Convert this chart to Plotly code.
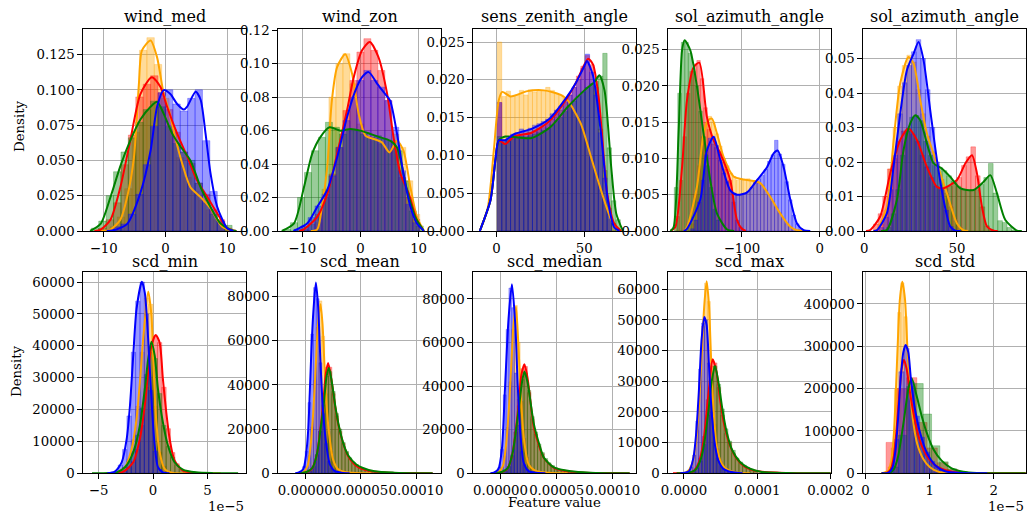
import plotly.graph_objects as go

# ------------------------------------------------------------------ data
# Each panel: KDE curve knots (x, density) and histogram bars (bin start, bin width, heights)
# Row 2 x-values are expressed in units of 1e-5.

# --- wind_med
wm_orange_kde_x = [-10.5, -8.9, -7.3, -6.2, -5.1, -4.3, -3.8, -2.4, -1.35, -0.27, 0.54, 1.6, 2.7, 4.05, 5.7, 7.3, 9.2, 11]
wm_orange_kde_y = [0, 0.001, 0.008, 0.024, 0.052, 0.104, 0.128, 0.135, 0.123, 0.097, 0.086, 0.066, 0.048, 0.031, 0.024, 0.016, 0.003, 0]
wm_red_kde_x = [-11.5, -10.5, -8.9, -7.3, -5.7, -4.05, -2.2, -0.8, 0.27, 1.9, 3.5, 5.1, 6.8, 8.4, 10, 11.5]
wm_red_kde_y = [0, 0.001, 0.008, 0.031, 0.064, 0.097, 0.109, 0.102, 0.088, 0.069, 0.053, 0.036, 0.024, 0.0125, 0.002, 0]
wm_green_kde_x = [-12.2, -10.5, -8.9, -7.3, -5.7, -4.05, -2.4, -1.35, -0.27, 1.1, 2.4, 4.05, 5.7, 7.3, 8.9, 10.5, 11.5]
wm_green_kde_y = [0, 0.005, 0.024, 0.046, 0.064, 0.079, 0.088, 0.0915, 0.083, 0.069, 0.06, 0.05, 0.031, 0.017, 0.0054, 0.001, 0]
wm_blue_kde_x = [-9.5, -8, -6.2, -4.05, -2.4, -1.35, -0.27, 0.8, 1.9, 3.0, 3.5, 4.9, 5.7, 6.5, 7.3, 8.4, 10, 11]
wm_blue_kde_y = [0, 0.001, 0.005, 0.027, 0.057, 0.088, 0.0998, 0.097, 0.09, 0.086, 0.088, 0.0986, 0.093, 0.069, 0.041, 0.017, 0.002, 0]
wm_orange_bins = (-9.0, 1.2)
wm_orange_hist = [0.003, 0.01, 0.03, 0.07, 0.128, 0.137, 0.118, 0.094, 0.072, 0.052, 0.038, 0.028, 0.022, 0.015, 0.008, 0.003]
wm_red_bins = (-10.8, 1.2)
wm_red_hist = [0.002, 0.008, 0.02, 0.047, 0.068, 0.095, 0.104, 0.11, 0.098, 0.086, 0.07, 0.056, 0.048, 0.034, 0.026, 0.015, 0.008, 0.002]
wm_green_bins = (-12.0, 1.2)
wm_green_hist = [0.002, 0.007, 0.025, 0.042, 0.056, 0.066, 0.077, 0.086, 0.092, 0.088, 0.074, 0.062, 0.056, 0.05, 0.034, 0.02, 0.012, 0.006, 0.004]
wm_blue_bins = (-9.6, 1.2)
wm_blue_hist = [0.001, 0.003, 0.005, 0.012, 0.026, 0.047, 0.074, 0.098, 0.1, 0.09, 0.085, 0.094, 0.1, 0.064, 0.028, 0.007]

# --- wind_zon
wz_orange_kde_x = [-8.5, -7.4, -6.6, -5.7, -4.9, -4.0, -2.6, -1.43, -0.29, 0.86, 2.3, 3.7, 5.0, 6.3, 7.4, 8.6, 9.7, 10.9]
wz_orange_kde_y = [0, 0.001, 0.0145, 0.038, 0.078, 0.098, 0.1057, 0.094, 0.07, 0.057, 0.055, 0.053, 0.047, 0.054, 0.048, 0.026, 0.0086, 0]
wz_red_kde_x = [-10.5, -9.7, -7.4, -5.7, -4.0, -2.3, -1.14, 0.29, 1.6, 3.1, 4.6, 5.7, 6.9, 8.3, 9.7, 10.9]
wz_red_kde_y = [0, 0.001, 0.0086, 0.022, 0.046, 0.072, 0.092, 0.108, 0.113, 0.104, 0.082, 0.056, 0.034, 0.0225, 0.0066, 0]
wz_green_kde_x = [-13.5, -11.4, -9.7, -8.3, -6.9, -5.3, -3.4, -1.7, 0, 1.7, 3.4, 5.1, 6.3, 8.0, 9.4, 10.9]
wz_green_kde_y = [0, 0.0046, 0.026, 0.046, 0.056, 0.062, 0.060, 0.061, 0.060, 0.058, 0.056, 0.054, 0.050, 0.0245, 0.0086, 0]
wz_blue_kde_x = [-11.5, -9.1, -7.4, -5.7, -4.0, -2.3, -0.86, 0.29, 1.43, 2.9, 4.0, 5.1, 6.3, 7.4, 8.6, 9.7, 10.9]
wz_blue_kde_y = [0, 0.0046, 0.0145, 0.0245, 0.044, 0.068, 0.084, 0.092, 0.095, 0.088, 0.083, 0.078, 0.058, 0.034, 0.0145, 0.0046, 0]
wz_orange_bins = (-7.8, 1.2)
wz_orange_hist = [0.005, 0.025, 0.08, 0.1, 0.106, 0.088, 0.064, 0.056, 0.054, 0.052, 0.048, 0.058, 0.05, 0.03, 0.01]
wz_red_bins = (-10.2, 1.2)
wz_red_hist = [0.001, 0.004, 0.01, 0.02, 0.034, 0.05, 0.072, 0.09, 0.107, 0.115, 0.108, 0.096, 0.078, 0.05, 0.032, 0.02, 0.007]
wz_green_bins = (-13.2, 1.2)
wz_green_hist = [0.001, 0.005, 0.02, 0.035, 0.048, 0.056, 0.065, 0.062, 0.058, 0.06, 0.06, 0.058, 0.056, 0.057, 0.055, 0.054, 0.048, 0.03, 0.012, 0.003]
wz_blue_bins = (-11.4, 1.2)
wz_blue_hist = [0.001, 0.003, 0.008, 0.015, 0.022, 0.033, 0.05, 0.066, 0.08, 0.09, 0.096, 0.09, 0.086, 0.078, 0.062, 0.036, 0.016, 0.005]

# --- sens_zenith_angle
sz_orange_kde_x = [-9.5, -5, -1.5, 1.3, 3.3, 8, 17.6, 27.1, 36.6, 40.5, 48, 53.8, 59.5, 65.3, 69, 72]
sz_orange_kde_y = [0, 0.003, 0.0107, 0.0173, 0.0184, 0.0178, 0.0185, 0.0186, 0.018, 0.0173, 0.0142, 0.0098, 0.0054, 0.0015, 0.0002, 0]
sz_red_kde_x = [-9.5, -3.4, -0.6, 1.3, 5, 10, 20, 30, 40, 45, 50, 52.3, 55, 58, 60, 63, 67, 71]
sz_red_kde_y = [0, 0.0041, 0.0094, 0.012, 0.0115, 0.0125, 0.013, 0.0145, 0.0175, 0.0195, 0.022, 0.0228, 0.022, 0.018, 0.013, 0.005, 0.001, 0]
sz_green_kde_x = [-9.5, -3.4, -0.6, 1.3, 5, 20, 30.9, 40.5, 50, 55.7, 58.6, 61.5, 65.3, 68.2, 72]
sz_green_kde_y = [0, 0.0041, 0.0094, 0.012, 0.0125, 0.0123, 0.0138, 0.0164, 0.0186, 0.0197, 0.0206, 0.0186, 0.0085, 0.0023, 0]
sz_blue_kde_x = [-9.5, -3.4, -0.6, 1.3, 5, 10, 20, 30, 40, 45, 50, 51.5, 55, 59.5, 63.4, 67, 70]
sz_blue_kde_y = [0, 0.0041, 0.0094, 0.012, 0.012, 0.0128, 0.0135, 0.0148, 0.0177, 0.0195, 0.0218, 0.0225, 0.0205, 0.0129, 0.0041, 0.0005, 0]
sz_orange_bins = (0.5, 2.5)
sz_orange_hist = [0.025, 0.0178, 0.0185, 0.0178, 0.018, 0.0186, 0.018, 0.0187, 0.0184, 0.0186, 0.0185, 0.019, 0.0186, 0.0182, 0.018, 0.0176, 0.0166, 0.0157, 0.0147, 0.0135, 0.012, 0.0095, 0.0075, 0.0055, 0.0035, 0.0015]
sz_red_bins = (0.5, 2.5)
sz_red_hist = [0.017, 0.0115, 0.012, 0.0122, 0.0125, 0.0128, 0.0125, 0.013, 0.0133, 0.0135, 0.0138, 0.0142, 0.0148, 0.0155, 0.016, 0.017, 0.018, 0.019, 0.0205, 0.0218, 0.0232, 0.022, 0.019, 0.0135, 0.008, 0.003, 0.001]
sz_green_bins = (0.5, 2.5)
sz_green_hist = [0.0125, 0.012, 0.0122, 0.0125, 0.0123, 0.0125, 0.0124, 0.0126, 0.0128, 0.013, 0.0133, 0.0136, 0.014, 0.0145, 0.015, 0.0158, 0.0166, 0.0172, 0.0178, 0.0184, 0.019, 0.0195, 0.0198, 0.0205, 0.0235, 0.011, 0.004, 0.0015]
sz_blue_bins = (0.5, 2.5)
sz_blue_hist = [0.017, 0.012, 0.0125, 0.0128, 0.013, 0.0135, 0.0132, 0.0136, 0.014, 0.0142, 0.0145, 0.0148, 0.0155, 0.016, 0.0165, 0.0172, 0.018, 0.019, 0.02, 0.0215, 0.0234, 0.021, 0.018, 0.013, 0.007, 0.0025]

# --- sol_azimuth_angle (first)
sa1_orange_kde_x = [-175, -170.7, -157.8, -149.3, -142.9, -138.6, -132, -123.6, -110.7, -97.8, -85, -76.3, -63.5, -50.6, -37.7, -29, -22]
sa1_orange_kde_y = [0, 0.0005, 0.0061, 0.0134, 0.0153, 0.0155, 0.0134, 0.0102, 0.0075, 0.0071, 0.0069, 0.0066, 0.0047, 0.0024, 0.0006, 0.0001, 0]
sa1_red_kde_x = [-192, -185.8, -177, -170.7, -162, -154.8, -145, -136.4, -127.8, -115, -106.3, -100, -95]
sa1_red_kde_y = [0, 0.0005, 0.0088, 0.018, 0.0226, 0.0232, 0.0157, 0.0125, 0.0107, 0.007, 0.0015, 0.0003, 0]
sa1_green_kde_x = [-192, -187.9, -181.5, -177, -173.7, -166.4, -157.8, -149.3, -140.7, -132, -119, -110]
sa1_green_kde_y = [0, 0.0005, 0.0134, 0.0249, 0.0263, 0.0249, 0.0199, 0.0134, 0.007, 0.0024, 0.0002, 0]
sa1_blue_kde_x = [-175, -170.7, -153.6, -145, -136.4, -127.8, -115, -106.3, -93.5, -80.6, -67.7, -59.2, -54, -46.3, -37.7, -29, -20.5, -12]
sa1_blue_kde_y = [0, 0.0003, 0.0043, 0.0111, 0.013, 0.0098, 0.0056, 0.005, 0.0053, 0.007, 0.0088, 0.0107, 0.0111, 0.0088, 0.0043, 0.001, 0.0001, 0]
sa1_orange_bins = (-166, 4.5)
sa1_orange_hist = [0.001, 0.005, 0.009, 0.013, 0.015, 0.0158, 0.015, 0.0134, 0.0117, 0.01, 0.009, 0.008, 0.0075, 0.007, 0.0072, 0.007, 0.0072, 0.0068, 0.0068, 0.0066, 0.0063, 0.0056, 0.0049, 0.0041, 0.0033, 0.0025, 0.0017, 0.001, 0.0006, 0.0002]
sa1_red_bins = (-185, 4.5)
sa1_red_hist = [0.002, 0.007, 0.013, 0.019, 0.022, 0.023, 0.0235, 0.021, 0.017, 0.014, 0.012, 0.0115, 0.011, 0.0095, 0.0085, 0.007, 0.004, 0.0015, 0.0005]
sa1_green_bins = (-187, 4.5)
sa1_green_hist = [0.006, 0.019, 0.026, 0.026, 0.0245, 0.022, 0.02, 0.0165, 0.013, 0.009, 0.006, 0.003, 0.0015]
sa1_blue_bins = (-166, 4.5)
sa1_blue_hist = [0.0003, 0.0015, 0.004, 0.007, 0.0105, 0.0128, 0.013, 0.0118, 0.0098, 0.008, 0.0068, 0.0057, 0.0052, 0.005, 0.005, 0.0052, 0.0055, 0.006, 0.0067, 0.0072, 0.0077, 0.0085, 0.0096, 0.0105, 0.0125, 0.0106, 0.0092, 0.0068, 0.0043, 0.0022, 0.001, 0.0003]

# --- sol_azimuth_angle (second)
sa2_orange_kde_x = [5, 6.8, 12.2, 15.8, 19.4, 23.9, 26.6, 30.2, 33.8, 39.2, 44.6, 50, 53.6, 56]
sa2_orange_kde_y = [0, 0.0003, 0.007, 0.026, 0.0428, 0.0505, 0.0486, 0.038, 0.0283, 0.0196, 0.0109, 0.0022, 0.0002, 0]
sa2_red_kde_x = [1, 3.2, 8.6, 14, 19.4, 23.9, 28.4, 33.8, 39.2, 42.8, 50, 54.5, 58.1, 60.8, 63.5, 66.2, 69.8, 72]
sa2_red_kde_y = [0, 0.0003, 0.0042, 0.0167, 0.0264, 0.0297, 0.0264, 0.0186, 0.0128, 0.0124, 0.0148, 0.0196, 0.022, 0.0167, 0.007, 0.0013, 0.0001, 0]
sa2_green_kde_x = [9, 12.2, 17.6, 21.2, 24.8, 27.5, 30.2, 33.8, 37.4, 41.9, 46.4, 51.8, 59, 64.4, 68, 71.6, 76.1, 82.4, 85]
sa2_green_kde_y = [0, 0.0003, 0.009, 0.0235, 0.0312, 0.0336, 0.0321, 0.0254, 0.0196, 0.0181, 0.0157, 0.0124, 0.0119, 0.0143, 0.0162, 0.0109, 0.0032, 0.0001, 0]
sa2_blue_kde_x = [5, 6.8, 12.2, 15.8, 19.4, 23, 26.6, 29.3, 32, 35.6, 39.2, 42.8, 46.4, 49.1, 52]
sa2_blue_kde_y = [0, 0.0002, 0.0051, 0.0186, 0.034, 0.0466, 0.0514, 0.0548, 0.0495, 0.035, 0.0206, 0.009, 0.0013, 0.0001, 0]
sa2_orange_bins = (8, 2.5)
sa2_orange_hist = [0.002, 0.006, 0.018, 0.03, 0.042, 0.048, 0.051, 0.049, 0.041, 0.034, 0.0275, 0.023, 0.0195, 0.015, 0.011, 0.007, 0.003, 0.001]
sa2_red_bins = (5, 2.5)
sa2_red_hist = [0.002, 0.005, 0.01, 0.018, 0.021, 0.026, 0.029, 0.0297, 0.028, 0.026, 0.022, 0.0186, 0.0155, 0.013, 0.0125, 0.0124, 0.013, 0.014, 0.0155, 0.019, 0.0215, 0.0244, 0.016, 0.007, 0.0015, 0.0003]
sa2_green_bins = (12, 2.5)
sa2_green_hist = [0.001, 0.005, 0.012, 0.022, 0.029, 0.033, 0.0335, 0.032, 0.026, 0.022, 0.019, 0.0185, 0.0175, 0.016, 0.0145, 0.013, 0.012, 0.0118, 0.012, 0.012, 0.0135, 0.0155, 0.0196, 0.011, 0.003, 0.0025, 0.001, 0.0003]
sa2_blue_bins = (8, 2.5)
sa2_blue_hist = [0.001, 0.004, 0.012, 0.022, 0.034, 0.043, 0.048, 0.052, 0.0555, 0.05, 0.041, 0.03, 0.02, 0.012, 0.006, 0.0013]

# --- scd_min (x in 1e-5)
smin_orange_kde_x = [-4.0, -3.33, -2.58, -1.97, -1.52, -1.21, -0.91, -0.45, -0.15, 0.06, 0.3, 0.6, 1.06, 1.82, 3.5, 6.2]
smin_orange_kde_y = [0, 300, 1900, 7600, 17000, 28500, 42100, 57000, 49400, 31700, 16000, 6600, 1400, 100, 20, 0]
smin_red_kde_x = [-3.5, -2.73, -1.82, -1.21, -0.76, -0.45, -0.15, 0.24, 0.6, 0.9, 1.21, 1.52, 1.97, 2.73, 3.94, 5.0]
smin_red_kde_y = [0, 500, 3450, 10800, 21200, 31700, 40000, 43400, 41000, 29600, 19100, 10800, 4000, 840, 100, 0]
smin_green_kde_x = [-5.6, -4.0, -3.33, -2.58, -1.82, -1.21, -0.76, -0.45, -0.15, 0.15, 0.45, 0.9, 1.36, 1.97, 2.73, 3.94, 5.5, 7.8]
smin_green_kde_y = [0, 100, 300, 1900, 6600, 15000, 26400, 35800, 41300, 36900, 26400, 16000, 8700, 3450, 1150, 300, 50, 0]
smin_blue_kde_x = [-4.2, -3.5, -2.88, -2.42, -2.12, -1.82, -1.52, -1.03, -0.76, -0.45, -0.15, 0.15, 0.45, 0.9, 1.5]
smin_blue_kde_y = [0, 500, 3450, 10800, 21200, 36900, 51500, 60100, 56700, 42100, 23300, 8700, 1900, 300, 0]
smin_orange_bins = (-3.2, 0.4)
smin_orange_hist = [500, 1900, 4500, 10500, 21000, 38000, 55000, 53000, 21000, 6600, 2200, 700, 150]
smin_red_bins = (-2.8, 0.4)
smin_red_hist = [700, 1800, 3500, 7500, 15000, 27000, 38000, 43000, 41000, 27000, 14000, 6500, 3000, 1200, 500, 200]
smin_green_bins = (-3.6, 0.4)
smin_green_hist = [300, 800, 1900, 3800, 6800, 12000, 20500, 31000, 40000, 36000, 25000, 15000, 8500, 5000, 2500, 1300, 700, 400]
smin_blue_bins = (-3.6, 0.4)
smin_blue_hist = [700, 2600, 7500, 18000, 38000, 54000, 60000, 50000, 26000, 7000, 1200, 200]

# --- scd_mean (x in 1e-5)
smean_orange_kde_x = [-0.8, -0.18, 0.21, 0.48, 0.72, 0.96, 1.17, 1.38, 1.56, 1.77, 1.98, 2.22, 2.51, 2.96, 3.56, 4.5, 6.0]
smean_orange_kde_y = [0, 600, 3300, 12300, 27200, 49600, 69000, 76500, 67600, 45100, 27200, 15200, 6300, 1800, 600, 100, 0]
smean_red_kde_x = [-0.5, -0.03, 0.57, 1.02, 1.32, 1.62, 1.86, 2.07, 2.37, 2.66, 2.96, 3.41, 3.86, 4.46, 5.06, 5.96, 7.5, 10.0, 11.5]
smean_red_kde_y = [0, 300, 1800, 7800, 18200, 31700, 45100, 49900, 42200, 31700, 22700, 13800, 7800, 4000, 2100, 900, 300, 100, 0]
smean_green_kde_x = [-0.5, 0.12, 0.66, 1.08, 1.38, 1.68, 1.92, 2.13, 2.37, 2.72, 3.05, 3.47, 3.92, 4.61, 5.21, 6.26, 8.0, 11.5]
smean_green_kde_y = [0, 600, 2500, 9300, 19700, 31700, 43600, 47800, 42200, 30200, 21200, 13000, 7800, 4000, 2400, 900, 300, 0]
smean_blue_kde_x = [-0.9, -0.63, -0.18, 0.06, 0.27, 0.42, 0.57, 0.72, 0.96, 1.17, 1.38, 1.62, 1.92, 2.22, 2.66, 3.26, 4.0]
smean_blue_kde_y = [0, 300, 1800, 7800, 19700, 37700, 57100, 72000, 86300, 75000, 49600, 27200, 12300, 4000, 1000, 300, 0]
smean_orange_bins = (0.0, 0.25)
smean_orange_hist = [2000, 8000, 21000, 42000, 66000, 78000, 62000, 36000, 19000, 10000, 5000, 2300, 1300, 800, 500, 300]
smean_red_bins = (0.3, 0.3)
smean_red_hist = [1000, 3000, 8000, 19000, 34000, 48000, 48000, 36000, 26000, 19000, 13500, 9500, 6500, 4500, 3300, 2400, 1800, 1300, 1000, 700, 500]
smean_green_bins = (0.3, 0.3)
smean_green_hist = [1200, 3200, 8500, 19000, 31000, 44000, 46000, 37000, 27000, 20000, 14000, 10000, 7000, 5000, 4000, 2800, 2200, 1600, 1100, 800, 600]
smean_blue_bins = (-0.25, 0.25)
smean_blue_hist = [3000, 10000, 32000, 63000, 84000, 79000, 50000, 27000, 13500, 5500, 2500, 1100, 500, 300]

# --- scd_median (x in 1e-5)
smed_orange_kde_x = [-0.8, -0.18, 0.21, 0.48, 0.72, 0.96, 1.17, 1.38, 1.62, 1.83, 2.13, 2.51, 3.0, 3.6, 4.5, 6.0]
smed_orange_kde_y = [0, 600, 3300, 12300, 27200, 49600, 69000, 76400, 56000, 33500, 13900, 4000, 1500, 600, 100, 0]
smed_red_kde_x = [-0.5, -0.03, 0.57, 1.02, 1.32, 1.62, 1.86, 2.13, 2.4, 2.96, 3.41, 3.86, 4.76, 5.96, 7.5, 10.0, 11.5]
smed_red_kde_y = [0, 300, 1800, 7800, 18200, 31700, 45100, 50000, 44000, 21400, 13000, 7000, 2500, 900, 300, 100, 0]
smed_green_kde_x = [-0.5, 0.12, 0.66, 1.08, 1.38, 1.68, 1.92, 2.13, 2.4, 2.96, 3.47, 3.86, 4.76, 6.26, 8.0, 11.5]
smed_green_kde_y = [0, 600, 2500, 9300, 19700, 31700, 42000, 46700, 42000, 22900, 13000, 7200, 2700, 900, 300, 0]
smed_blue_kde_x = [-0.9, -0.6, -0.2, 0.12, 0.42, 0.72, 1.02, 1.32, 1.53, 1.77, 2.07, 2.51, 3.2, 4.0]
smed_blue_kde_y = [0, 300, 1800, 10800, 41000, 71100, 86700, 68100, 41000, 18400, 4800, 1000, 200, 0]
smed_orange_bins = (0.0, 0.25)
smed_orange_hist = [2000, 8000, 21000, 42000, 66000, 77000, 60000, 33000, 16000, 7500, 3500, 1800, 1000, 700, 400, 200]
smed_red_bins = (0.3, 0.3)
smed_red_hist = [1000, 3000, 8000, 19000, 34000, 48000, 49000, 37000, 25000, 18000, 12500, 9000, 6000, 4200, 3000, 2200, 1600, 1200, 900, 600, 400]
smed_green_bins = (0.3, 0.3)
smed_green_hist = [1200, 3200, 8500, 19000, 31000, 43000, 46000, 38000, 26000, 19000, 13500, 9500, 6800, 4800, 3600, 2600, 2000, 1500, 1000, 700, 500]
smed_blue_bins = (-0.25, 0.25)
smed_blue_hist = [2500, 11000, 36000, 66000, 85000, 76000, 46000, 22000, 10000, 4000, 1800, 900, 400, 200]

# --- scd_max (x in 1e-5)
smax_orange_kde_x = [-1, 0.36, 1.05, 1.59, 2.05, 2.41, 2.77, 3.09, 3.41, 3.68, 4.0, 4.45, 5.14, 6.05, 7.4, 9.0]
smax_orange_kde_y = [0, 400, 2600, 9100, 22200, 38500, 54800, 62600, 54800, 38500, 22200, 9100, 3150, 1000, 200, 0]
smax_red_kde_x = [-1.5, 0.2, 1.27, 2.05, 2.64, 3.09, 3.55, 3.91, 4.45, 4.91, 5.5, 6.27, 7.18, 8.32, 10.1, 13.0, 20.0]
smax_red_kde_y = [0, 100, 650, 3700, 10200, 20000, 30900, 37200, 33000, 24300, 15700, 9100, 4800, 2100, 650, 200, 0]
smax_green_kde_x = [-1.0, 0.5, 1.5, 2.32, 2.86, 3.32, 3.77, 4.23, 4.77, 5.23, 5.82, 6.59, 7.64, 9.0, 10.6, 14.0, 20.0]
smax_green_kde_y = [0, 200, 1000, 4800, 11300, 20000, 29800, 35000, 28700, 21100, 13500, 7500, 3700, 1500, 430, 100, 0]
smax_blue_kde_x = [-0.5, 0.68, 1.27, 1.68, 2.05, 2.41, 2.77, 3.09, 3.41, 3.77, 4.23, 4.68, 5.36, 6.5, 8.0]
smax_blue_kde_y = [0, 650, 4800, 13500, 27600, 43900, 51000, 48300, 35200, 20000, 9100, 4200, 1500, 400, 0]
smax_orange_bins = (0.4, 0.4)
smax_orange_hist = [800, 2400, 6000, 14000, 30000, 48000, 62000, 56000, 32000, 16000, 8000, 4000, 2300, 1400, 900, 500, 300, 200]
smax_red_bins = (1.0, 0.5)
smax_red_hist = [600, 1800, 5000, 12000, 24000, 35000, 36000, 28000, 19000, 13000, 10000, 6500, 4500, 3200, 2300, 1600, 1100, 800]
smax_green_bins = (1.0, 0.5)
smax_green_hist = [700, 1600, 4000, 9500, 19000, 30000, 35000, 29000, 21000, 14500, 10500, 7500, 5000, 3700, 2700, 1900, 1400, 900]
smax_blue_bins = (0.4, 0.4)
smax_blue_hist = [500, 2000, 6000, 17000, 34000, 49000, 50000, 36000, 20000, 10000, 5000, 2500, 1500, 900, 600, 400, 200]

# --- scd_std (x in 1e-5)
sstd_orange_kde_x = [0.25, 0.354, 0.406, 0.443, 0.474, 0.505, 0.536, 0.573, 0.615, 0.651, 0.693, 0.745, 0.807, 0.901, 1.005, 1.135, 1.3, 1.8, 2.5]
sstd_orange_kde_y = [0, 6300, 33800, 96800, 199000, 317000, 411600, 452500, 411600, 301400, 199000, 120400, 69300, 33800, 14200, 3900, 500, 100, 0]
sstd_red_kde_x = [0.25, 0.33, 0.39, 0.443, 0.484, 0.526, 0.5625, 0.599, 0.641, 0.693, 0.755, 0.839, 0.953, 1.109, 1.318, 1.526, 2.0, 2.5]
sstd_red_kde_y = [0, 800, 8700, 41700, 104700, 183400, 246300, 268400, 246300, 191200, 136200, 81100, 41700, 16500, 4700, 800, 100, 0]
sstd_green_kde_x = [0.25, 0.38, 0.443, 0.51, 0.5625, 0.615, 0.667, 0.719, 0.797, 0.875, 0.953, 1.057, 1.1875, 1.344, 1.526, 1.734, 2.1, 2.5]
sstd_green_kde_y = [0, 800, 10200, 41700, 88900, 144000, 199000, 224300, 183400, 136200, 96800, 57500, 29900, 11800, 3900, 800, 100, 0]
sstd_blue_kde_x = [0.25, 0.354, 0.422, 0.469, 0.51, 0.547, 0.589, 0.625, 0.667, 0.708, 0.771, 0.849, 0.953, 1.083, 1.24, 1.5, 1.9]
sstd_blue_kde_y = [0, 800, 14200, 57500, 136200, 222700, 285700, 303000, 285700, 222700, 151900, 96800, 49600, 19700, 4700, 500, 0]
sstd_orange_bins = (0.35, 0.05)
sstd_orange_hist = [15000, 60000, 200000, 380000, 450000, 370000, 240000, 150000, 95000, 60000, 40000, 27000, 17000, 11000, 6500, 4000, 2000]
sstd_red_bins = (0.32, 0.16)
sstd_red_hist = [73000, 200000, 226000, 120000, 60000, 25000, 9000, 3000, 1000]
sstd_green_bins = (0.38, 0.13)
sstd_green_hist = [15000, 90000, 205000, 212000, 140000, 65000, 27000, 11000, 4000, 1500, 600]
sstd_blue_bins = (0.36, 0.08)
sstd_blue_hist = [8000, 80000, 240000, 295000, 215000, 135000, 85000, 50000, 28000, 15000, 7000, 3500, 1500]

# --- titles and tick labels
panel_titles = ["wind_med", "wind_zon", "sens_zenith_angle", "sol_azimuth_angle", "sol_azimuth_angle",
                "scd_min", "scd_mean", "scd_median", "scd_max", "scd_std"]
panel_prefixes = ["wm", "wz", "sz", "sa1", "sa2", "smin", "smean", "smed", "smax", "sstd"]

x_tick_vals = [[-10, 0, 10], [-10, 0, 10], [0, 50], [-100, 0], [0, 50],
               [-5, 0, 5], [0, 5, 10], [0, 5, 10], [0, 10, 20], [0, 1, 2]]
x_tick_text = [["\u221210", "0", "10"], ["\u221210", "0", "10"], ["0", "50"], ["\u2212100", "0"], ["0", "50"],
               ["\u22125", "0", "5"], ["0.00000", "0.00005", "0.00010"], ["0.00000", "0.00005", "0.00010"],
               ["0.0000", "0.0001", "0.0002"], ["0", "1", "2"]]
y_tick_vals = [[0, 0.025, 0.05, 0.075, 0.1, 0.125],
               [0, 0.02, 0.04, 0.06, 0.08, 0.1, 0.12],
               [0, 0.005, 0.01, 0.015, 0.02, 0.025],
               [0, 0.005, 0.01, 0.015, 0.02, 0.025],
               [0, 0.01, 0.02, 0.03, 0.04, 0.05],
               [0, 10000, 20000, 30000, 40000, 50000, 60000],
               [0, 20000, 40000, 60000, 80000],
               [0, 20000, 40000, 60000, 80000],
               [0, 10000, 20000, 30000, 40000, 50000, 60000],
               [0, 100000, 200000, 300000, 400000]]
y_tick_text = [["0.000", "0.025", "0.050", "0.075", "0.100", "0.125"],
               ["0.00", "0.02", "0.04", "0.06", "0.08", "0.10", "0.12"],
               ["0.000", "0.005", "0.010", "0.015", "0.020", "0.025"],
               ["0.000", "0.005", "0.010", "0.015", "0.020", "0.025"],
               ["0.00", "0.01", "0.02", "0.03", "0.04", "0.05"],
               ["0", "10000", "20000", "30000", "40000", "50000", "60000"],
               ["0", "20000", "40000", "60000", "80000"],
               ["0", "20000", "40000", "60000", "80000"],
               ["0", "10000", "20000", "30000", "40000", "50000", "60000"],
               ["0", "100000", "200000", "300000", "400000"]]

# ------------------------------------------------------------------ layout / style
W, H = 1028, 518
x_ranges = [[-13.3, 13.1], [-14.1, 13.9], [-13.2, 79.6], [-194.7, 15.0], [-0.5, 87.4],
            [-6.4, 8.55], [-2.43, 12.28], [-2.42, 12.09], [-2.14, 20.1], [-0.036, 2.51]]
y_ranges = [[0, 0.1429], [0, 0.1206], [0, 0.02668], [0, 0.0278], [0, 0.0585],
            [0, 63240], [0, 91200], [0, 92500], [0, 65730], [0, 476300]]
col_left = [83.3, 278.3, 473.3, 668.3, 863.3]
ax_w = 163
row_top = [29.3, 271.7]
row_bottom = [231.0, 473.3]
title_center = [16.5, 261.0]

COLORS = {"orange": (255, 165, 0), "red": (255, 0, 0), "green": (0, 128, 0), "blue": (0, 0, 255)}
ORDER = ["orange", "red", "green", "blue"]
FONT = "DejaVu Serif"

def rgba(name, a):
    r, g, b = COLORS[name]
    return f"rgba({r},{g},{b},{a})"

g = globals()
fig = go.Figure()
layout = dict(width=W, height=H, margin=dict(l=0, r=0, t=0, b=0, pad=0),
              paper_bgcolor="white", plot_bgcolor="white", barmode="overlay",
              showlegend=False, font=dict(family=FONT, size=13.3, color="black"))
annotations = []

for i, pre in enumerate(panel_prefixes):
    n = i + 1
    xa, ya = ("x" if n == 1 else f"x{n}"), ("y" if n == 1 else f"y{n}")
    for s in ORDER:
        start, width = g[f"{pre}_{s}_bins"]
        heights = g[f"{pre}_{s}_hist"]
        centers = [start + width * (k + 0.5) for k in range(len(heights))]
        fig.add_trace(go.Bar(x=centers, y=heights, width=width, xaxis=xa, yaxis=ya,
                             marker=dict(color=rgba(s, 0.4), line=dict(width=0.6, color=rgba(s, 0.45))),
                             hoverinfo="skip"))
    for s in ORDER:
        fig.add_trace(go.Scatter(x=g[f"{pre}_{s}_kde_x"], y=g[f"{pre}_{s}_kde_y"], mode="lines",
                                 xaxis=xa, yaxis=ya,
                                 line=dict(color=rgba(s, 1), width=2, shape="spline", smoothing=0.7),
                                 hoverinfo="skip"))
    r, c = divmod(i, 5)
    xd = [col_left[c] / W, (col_left[c] + ax_w) / W]
    yd = [1 - row_bottom[r] / H, 1 - row_top[r] / H]
    common = dict(showline=True, linecolor="black", linewidth=1, mirror=True,
                  ticks="outside", ticklen=5, tickwidth=1, tickcolor="black",
                  showgrid=True, gridcolor="#b0b0b0", gridwidth=1, zeroline=False,
                  tickangle=0, automargin=False,
                  tickfont=dict(family=FONT, size=13.3, color="black"))
    layout["xaxis" if n == 1 else f"xaxis{n}"] = dict(
        domain=xd, anchor=ya, range=x_ranges[i], tickmode="array",
        tickvals=x_tick_vals[i], ticktext=x_tick_text[i], **common)
    layout["yaxis" if n == 1 else f"yaxis{n}"] = dict(
        domain=yd, anchor=xa, range=y_ranges[i], tickmode="array",
        tickvals=y_tick_vals[i], ticktext=y_tick_text[i], **common)
    annotations.append(dict(text=panel_titles[i], xref="paper", yref="paper",
                            x=(col_left[c] + ax_w / 2) / W, y=1 - title_center[r] / H,
                            xanchor="center", yanchor="middle", showarrow=False,
                            font=dict(family=FONT, size=16, color="black")))

# axis labels and offset texts
annotations.append(dict(text="Density", xref="paper", yref="paper", x=19.5 / W, y=1 - 126.5 / H,
                        textangle=-90, showarrow=False, xanchor="center", yanchor="middle",
                        font=dict(family=FONT, size=13.3)))
annotations.append(dict(text="Density", xref="paper", yref="paper", x=16.5 / W, y=1 - 371.5 / H,
                        textangle=-90, showarrow=False, xanchor="center", yanchor="middle",
                        font=dict(family=FONT, size=13.3)))
annotations.append(dict(text="Feature value", xref="paper", yref="paper", x=554.8 / W, y=1 - 502 / H,
                        showarrow=False, xanchor="center", yanchor="middle",
                        font=dict(family=FONT, size=13.3)))
for right in (246.3, 1026.3):
    annotations.append(dict(text="1e\u22125", xref="paper", yref="paper", x=right / W, y=1 - 506 / H,
                            showarrow=False, xanchor="right", yanchor="middle",
                            font=dict(family=FONT, size=13.3)))

layout["annotations"] = annotations
fig.update_layout(**layout)
fig.write_html("out.html")
